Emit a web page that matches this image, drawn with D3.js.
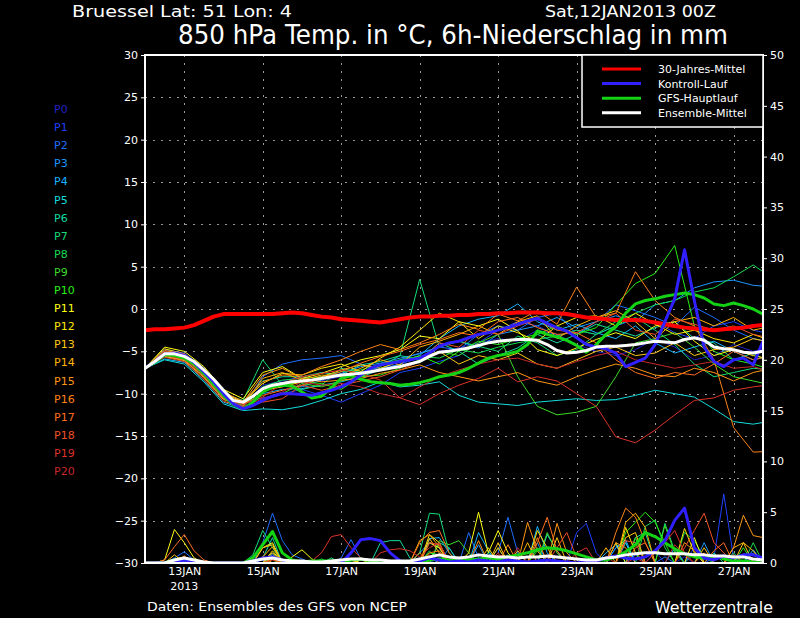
<!DOCTYPE html>
<html>
<head>
<meta charset="utf-8">
<script src="https://cdn.jsdelivr.net/npm/d3@7"></script>
<style>
  body { margin: 0; background: #000; }
  svg { display: block; }
  text { font-family: "DejaVu Sans", sans-serif; fill: #fff; }
</style>
</head>
<body>
<svg id="chart" width="800" height="618"></svg>
<script>
// ---- data ----
// time steps (hours since 12JAN2013 00Z)
var hoursMain = d3.range(0, 384, 6);      // 6-hourly, 0..378
var hoursMember = d3.range(0, 385, 12);   // 12-hourly, 0..384

var dateHours = [24, 72, 120, 168, 216, 264, 312, 360];
var dateLabels = ["13JAN", "15JAN", "17JAN", "19JAN", "21JAN", "23JAN", "25JAN", "27JAN"];

var memberNames = ["P0","P1","P2","P3","P4","P5","P6","P7","P8","P9","P10",
                   "P11","P12","P13","P14","P15","P16","P17","P18","P19","P20"];
var memberColors = ["#2020c8","#1e40ff","#1e6eff","#1e96ff","#14b4ff","#14dcdc","#14dca0",
                    "#14dc78","#14dc50","#3cdc28","#28f014","#ffff14","#ffe600","#ffc814",
                    "#ffb400","#ff9614","#ff8214","#ff6e1e","#f05028","#dc3228","#c82828"];

// 850 hPa temperature (degC)
var climTemp = [-2.5,-2.4,-2.4,-2.3,-2.2,-1.9,-1.4,-0.9, -0.6,-0.6,-0.6,-0.6,-0.6,-0.6,-0.5,-0.4,
                -0.5,-0.7,-0.9,-1.0,-1.2,-1.3,-1.4,-1.5, -1.6,-1.4,-1.2,-1.0,-0.9,-0.9,-0.8,-0.8,
                -0.7,-0.7,-0.6,-0.6,-0.5,-0.5,-0.4,-0.4, -0.4,-0.5,-0.5,-0.6,-0.8,-1.0,-1.1,-1.2,
                -1.3,-1.3,-1.3,-1.4,-1.6,-1.8,-2.0,-2.2, -2.3,-2.4,-2.5,-2.4,-2.3,-2.2,-2.0,-1.9];
var meanTemp = [-7.0,-6.2,-5.3,-5.3,-5.6,-6.2,-7.2,-8.3, -9.6,-10.8,-11.0,-10.3,-9.4,-9.0,-8.8,-8.6,
                -8.5,-8.4,-8.2,-8.0,-7.8,-7.7,-7.6,-7.4, -7.2,-7.0,-6.8,-6.5,-6.2,-5.6,-5.1,-5.0,
                -4.8,-4.6,-4.3,-4.0,-3.8,-3.7,-3.6,-3.6, -3.7,-4.2,-4.9,-5.2,-5.1,-4.9,-4.5,-4.4,
                -4.4,-4.3,-4.2,-4.0,-3.8,-3.9,-4.0,-3.6, -3.4,-3.7,-4.5,-4.7,-4.8,-5.1,-5.2,-5.0];
var gfsTemp = [-7.0,-6.3,-5.4,-5.5,-5.8,-6.5,-7.6,-8.9, -10.2,-11.3,-11.8,-11.0,-9.8,-9.2,-9.0,-9.1,
               -9.8,-10.5,-10.3,-9.3,-8.2,-7.9,-8.3,-8.6, -8.7,-8.8,-9.0,-8.9,-8.7,-8.4,-8.0,-7.8,
               -7.5,-7.0,-6.4,-5.8,-5.5,-5.3,-5.0,-4.2, -2.6,-3.0,-3.3,-3.7,-4.3,-5.1,-4.2,-3.0,
               -2.1,-0.5,0.6,1.0,1.2,1.5,1.7,1.9, 1.7,1.3,0.6,0.4,0.7,0.4,0.0,-0.6];
var controlTemp = [-7.0,-6.2,-5.3,-5.2,-5.5,-6.3,-7.4,-8.6, -10.0,-11.2,-11.8,-11.4,-10.8,-10.3,-10.0,-10.0,
                   -10.1,-10.2,-9.9,-9.6,-9.2,-8.6,-7.8,-7.0, -6.6,-6.4,-6.2,-6.0,-5.8,-5.2,-4.4,-4.0,
                   -3.8,-3.4,-3.0,-2.8,-2.5,-2.2,-1.8,-1.4, -1.1,-1.7,-2.2,-2.6,-3.4,-4.2,-4.5,-4.7,
                   -5.2,-6.8,-6.3,-5.8,-4.2,-1.5,1.2,7.0, 1.0,-4.5,-6.2,-6.8,-6.0,-5.8,-6.6,-3.8];

// ensemble members P0..P20, 12-hourly
var memberTemp = [
  [-7,-5.0,-5.4,-7.3,-10.2,-11.5,-9.0,-8.5,-8.0,-8.5,-8.0, -7.4,-7.0,-6.5,-5.8,-5.0,-4.6,-4.0,-3.5,-3.8,-2.5,-3.0, -4.2,-5.0,-5.5,-4.8,-3.5,-4.5,-6.0,-5.5,-4.2,-5.0,-4.5],
  [-7,-4.8,-5.2,-7.0,-9.8,-11.2,-10.5,-10.0,-9.5,-10.2,-11.0, -10.0,-9.0,-7.5,-7.0,-6.2,-5.5,-4.0,-2.5,-1.5,-2.0,-3.2, -2.5,-3.0,-2.0,-1.2,-1.5,-2.8,-3.5,-2.0,-1.5,-2.5,-3.0],
  [-7,-5.3,-5.5,-7.6,-10.4,-11.6,-8.0,-6.5,-6.0,-5.8,-5.5, -6.5,-7.2,-6.0,-5.2,-4.5,-4.8,-3.0,-2.0,-2.5,-1.0,-0.5, -3.0,-1.5,0.5,-0.2,-1.0,-2.0,0.2,-1.0,-2.5,-3.5,-4.0],
  [-7,-5.6,-6.0,-8.0,-10.6,-11.4,-9.5,-9.0,-9.2,-8.4,-7.6, -6.8,-6.4,-5.8,-5.3,-4.5,-3.8,-4.6,-3.0,-2.5,-2.0,-1.0, -2.2,-1.5,-0.8,-1.5,0.5,1.0,2.5,3.2,3.4,2.8,2.6],
  [-7,-5.9,-6.3,-8.4,-11.0,-11.8,-10.0,-9.5,-9.4,-9.0,-8.6, -8.0,-7.2,-6.5,-5.5,-3.5,-2.0,-1.2,-0.8,0.6,-1.5,-2.5, -1.8,-2.8,-3.5,-2.0,-4.0,-5.2,-4.5,-3.8,-5.0,-6.0,-5.5],
  [-7,-6.0,-6.5,-8.6,-11.2,-12.0,-11.8,-11.9,-11.5,-10.8,-10.0, -9.5,-8.6,-9.2,-9.0,-8.6,-10.2,-11.0,-11.2,-11.4,-11.0,-10.8, -10.6,-10.8,-10.7,-10.2,-9.6,-10.0,-10.4,-11.8,-13.3,-13.6,-13.2],
  [-7,-5.2,-5.8,-7.8,-10.3,-11.0,-8.5,-8.0,-8.0,-7.5,-7.8, -6.6,-6.2,-5.5,-6.0,-4.0,-5.0,-6.5,-5.5,-4.6,-3.0,-4.0, -3.0,-1.8,-2.5,-3.2,-2.2,-1.5,-3.5,-4.0,-6.0,-5.2,-6.5],
  [-7,-5.5,-5.6,-7.5,-10.0,-10.8,-6.0,-9.0,-9.5,-9.0,-7.0, -7.5,-6.8,-5.5,3.5,-4.5,-3.8,-4.4,-5.0,-3.2,-4.0,-5.5, -4.8,-3.0,-2.0,-1.0,-2.5,-4.2,-6.5,-8.0,-7.5,-7.0,-7.2],
  [-7,-5.1,-5.5,-7.4,-10.1,-11.5,-9.2,-8.4,-8.2,-8.0,-7.4, -7.2,-6.5,-6.0,-5.6,-5.8,-4.8,-5.2,-4.5,-4.0,-3.6,-3.2, -2.5,-3.0,-1.5,-0.5,0.5,1.0,2.0,2.5,3.8,5.2,3.6],
  [-7,-5.4,-5.9,-7.9,-10.5,-11.8,-10.8,-10.0,-8.8,-9.2,-8.5, -8.0,-7.8,-7.0,-6.0,-5.0,-5.5,-4.0,-3.0,-8.0,-11.5,-12.5, -12.2,-11.5,-8.0,-4.0,-3.5,-2.8,-4.5,-6.5,-8.0,-8.5,-9.0],
  [-7,-5.0,-5.4,-7.2,-10.0,-11.4,-9.8,-9.0,-8.6,-8.8,-9.5, -8.0,-7.0,-6.2,-5.5,-6.5,-5.0,-3.8,-4.2,-3.5,-3.0,-2.0, -3.0,-2.2,0.5,3.0,4.2,7.5,-2.0,-5.0,-6.0,-6.5,-7.2],
  [-7,-4.5,-5.0,-6.8,-9.5,-10.6,-7.5,-6.8,-8.2,-7.6,-6.8, -6.0,-5.5,-4.8,-3.2,-3.5,-1.5,-2.0,-1.2,-2.6,-4.8,-5.5, -4.6,-3.6,-2.8,-3.5,-2.0,-1.5,-3.8,-5.5,-4.8,-5.5,-6.0],
  [-7,-4.7,-5.3,-7.2,-9.9,-11.0,-8.8,-7.6,-7.8,-7.0,-6.5, -7.4,-5.8,-4.5,-2.5,-0.5,-1.5,-3.5,-2.0,-2.8,-3.8,-2.0, -1.0,-0.8,-2.0,-0.5,-1.8,-3.0,-2.5,-3.5,-4.0,-3.0,-3.8],
  [-7,-5.2,-5.7,-7.7,-10.3,-11.2,-9.6,-9.2,-8.6,-8.0,-7.2, -6.6,-7.0,-6.2,-5.8,-5.0,-6.5,-5.5,-6.0,-5.2,-6.5,-7.0, -6.0,-5.0,-4.5,-5.5,-5.2,-4.0,-5.5,-4.8,-4.5,-3.5,-4.0],
  [-7,-5.6,-6.1,-8.1,-10.7,-11.5,-8.2,-7.5,-8.4,-7.8,-8.0, -7.0,-6.0,-6.6,-4.5,-3.8,-3.0,-2.0,-3.0,-1.5,-0.8,-3.5, -2.0,-1.0,-0.2,-1.5,-3.5,-1.5,-1.0,-2.0,-1.0,-2.5,-2.0],
  [-7,-5.3,-5.8,-7.6,-10.2,-11.0,-7.8,-7.0,-8.2,-8.6,-8.4, -8.2,-7.6,-7.2,-6.6,-7.5,-8.0,-8.5,-8.0,-7.5,-8.5,-9.0, -8.0,-7.2,-6.5,-7.0,-7.8,-8.0,-7.0,-7.5,-8.5,-7.5,-7.0],
  [-7,-4.9,-5.3,-7.1,-9.8,-10.9,-8.6,-7.8,-7.8,-6.8,-6.0, -5.0,-4.2,-4.8,-4.0,-3.0,-1.8,-2.4,-0.6,-1.4,-0.2,-1.8, 2.6,-1.0,-0.5,4.4,1.0,-1.0,-2.0,-6.0,-14.0,-16.9,-16.8],
  [-7,-5.5,-6.0,-8.0,-10.6,-11.2,-10.2,-9.6,-9.0,-8.2,-7.4, -6.4,-5.6,-5.0,-4.2,-3.6,-2.8,-3.2,-1.5,-1.0,-2.2,-3.0, -2.8,-4.0,-6.0,-7.5,-8.2,-7.5,-7.8,-6.5,-5.0,-6.0,-5.5],
  [-7,-5.7,-6.2,-8.3,-10.9,-11.6,-11.0,-10.6,-9.0,-9.6,-9.0, -8.5,-8.0,-7.2,-6.2,-4.0,-4.5,-2.5,-3.0,-2.0,-1.2,-2.5, -2.8,-1.5,-0.5,-2.5,-3.0,-1.2,-1.8,-2.5,-2.0,-3.0,-3.5],
  [-7,-5.0,-5.5,-7.5,-10.1,-11.3,-10.4,-8.8,-8.0,-7.6,-7.2, -7.6,-8.4,-10.5,-11.3,-10.0,-9.0,-8.2,-7.0,-8.6,-8.0,-8.5, -10.0,-11.5,-15.1,-15.8,-14.3,-12.5,-10.8,-10.5,-9.6,-9.2,-8.9],
  [-7,-5.4,-5.9,-7.8,-10.4,-11.5,-10.6,-9.8,-8.6,-9.0,-8.8, -9.2,-10.0,-10.5,-9.2,-8.0,-7.2,-6.5,-6.0,-5.8,-6.5,-7.0, -6.2,-5.5,-5.0,-6.0,-6.5,-7.0,-6.6,-6.2,-7.0,-6.8,-7.5]
];

// 6h precipitation (mm)
var gfsPrecip = [0,0,0,0.3,0.4,0.2,0,0, 0,0,0,0.5,1.8,3.1,1.0,0.3,
                 0.1,0.2,0.2,0.2,0,0.3,0.4,0.2, 0,0,0,0,0.1,0.3,0.4,0.3,
                 0.2,0.3,0.4,0.5,0.4,0.6,0.8,1.0, 1.3,1.5,1.4,1.2,0.9,0.6,0.3,0.3,
                 0.6,1.1,1.8,3.0,2.6,2.0,1.4,0.9, 0.6,0.5,0.7,0.4,0.2,0.2,0.1,0];
var controlPrecip = [0,0,0,0,0.3,0.1,0,0, 0,0,0,0.2,0.5,0.6,0.3,0,
                     0,0,0,0,0,1.0,2.3,2.4, 2.2,1.0,0.2,0,0.2,0.5,0.3,0.1,
                     0.2,0.1,0.3,0.2,0.1,0.3,0.2,0.1, 0.2,0.3,0.2,0.1,0,0.1,0.2,0.5,
                     0.7,0.5,0.4,0.6,1.2,2.2,4.2,5.4, 1.5,0.5,0.3,0.7,0.5,0.8,0.8,0.5];
var meanPrecip = [0,0,0,0.3,0.5,0.3,0.1,0, 0,0,0,0.2,0.4,0.5,0.3,0.2,
                  0.2,0.1,0.1,0.2,0.3,0.4,0.4,0.3, 0.3,0.2,0.2,0.2,0.4,0.6,0.8,0.6,
                  0.5,0.6,0.8,0.7,0.6,0.6,0.5,0.6, 0.6,0.7,0.6,0.5,0.4,0.3,0.3,0.5,
                  0.6,0.8,0.9,1.0,1.0,0.9,0.9,0.9, 0.8,0.8,0.7,0.7,0.6,0.6,0.4,0.3];
// members: [6h step index, mm]; the other steps are dry
var memberPrecip = [
  [[4,0.4],[13,0.5],[22,0.4],[30,0.6],[37,0.8],[45,0.5],[52,1.2],[55,0.6],[61,0.8]],
  [[4,0.6],[12,0.3],[29,0.5],[38,1.0],[44,3.0],[45,3.9],[46,1.0],[50,0.8],[56,1.5],[58,0.5],[59,6.8],[60,0.5]],
  [[3,0.5],[4,1.1],[5,0.3],[12,2.0],[13,4.9],[14,2.2],[15,0.8],[16,0.4],[20,0.5],[21,2.3],[22,0.4],[31,1.5],[33,3.0],[34,0.5],[36,1.0],[37,4.5],[38,1.0],[48,1.5],[49,2.0],[53,0.6]],
  [[4,0.3],[13,0.8],[28,1.0],[29,2.0],[30,1.5],[34,1.8],[40,2.0],[48,1.5],[49,2.3],[57,2.0],[62,1.0]],
  [[4,0.2],[13,1.0],[29,2.4],[30,2.5],[31,1.0],[34,3.0],[35,1.2],[40,3.6],[41,1.0],[47,1.0],[48,1.8],[54,1.5],[62,1.3]],
  [[3,0.3],[12,0.5],[21,0.3],[29,0.6],[36,1.5],[41,2.8],[42,1.2],[49,2.0],[56,1.0]],
  [[12,0.5],[13,2.5],[24,2.0],[25,2.2],[26,2.2],[27,0.5],[30,2.0],[31,1.5],[35,1.0],[50,2.5],[51,3.0],[58,1.0]],
  [[11,0.8],[12,3.2],[13,1.5],[19,0.5],[28,1.0],[29,4.9],[30,4.8],[31,1.0],[40,1.5],[53,3.9],[54,1.2],[60,1.0]],
  [[4,0.3],[13,1.0],[18,0.4],[29,1.2],[37,0.8],[51,3.6],[52,4.2],[53,1.5],[55,3.0],[56,2.2],[57,0.5],[62,2.0]],
  [[13,0.6],[20,0.3],[30,2.2],[31,1.8],[32,2.2],[33,1.0],[41,3.0],[42,1.0],[50,2.5],[53,3.7],[54,1.0]],
  [[4,0.2],[12,0.5],[14,0.4],[29,1.0],[30,0.8],[40,1.2],[49,3.0],[50,4.0],[51,5.0],[52,4.0],[53,2.0],[61,1.5]],
  [[2,0.3],[3,3.3],[4,2.0],[5,0.5],[12,1.5],[13,2.0],[15,0.6],[16,1.3],[17,0.4],[22,0.3],[29,2.0],[30,1.5],[33,1.0],[34,5.0],[35,1.0],[36,3.2],[37,1.0],[48,2.0],[56,2.5],[63,0.5]],
  [[4,0.5],[13,1.2],[21,0.4],[29,2.8],[30,2.0],[35,1.5],[40,3.2],[41,1.5],[49,3.5],[50,1.0],[55,3.4],[56,1.0]],
  [[3,0.8],[12,1.5],[13,1.8],[29,2.4],[30,1.0],[36,2.0],[38,1.2],[42,2.5],[49,2.5],[50,3.0],[57,1.5],[61,2.0]],
  [[3,0.4],[4,0.6],[12,0.6],[13,1.6],[28,2.2],[29,2.8],[30,1.6],[36,1.5],[39,2.0],[47,1.5],[49,4.0],[50,4.9],[51,3.5],[60,1.5],[61,2.0],[62,1.2]],
  [[13,1.0],[22,0.5],[28,1.0],[34,2.2],[39,4.0],[40,1.2],[42,3.9],[43,1.0],[48,2.0],[49,1.5],[55,2.0],[56,1.2],[60,1.5],[61,4.7],[62,2.7],[63,2.5]],
  [[4,0.7],[12,0.6],[29,1.0],[30,1.2],[37,1.8],[40,2.5],[48,3.0],[49,5.4],[50,4.5],[51,2.0],[57,1.0],[60,0.8]],
  [[2,0.3],[3,1.6],[4,2.8],[5,1.2],[6,0.3],[13,0.4],[28,2.0],[29,3.0],[30,3.2],[31,1.0],[40,2.0],[41,4.5],[42,1.2],[50,1.5],[51,2.0],[58,1.2],[59,2.0]],
  [[4,0.5],[13,0.3],[29,2.0],[30,1.8],[36,0.8],[42,1.5],[43,3.0],[44,0.5],[49,2.2],[50,2.0],[55,1.5],[56,3.2],[57,4.9],[58,2.0],[59,1.0]],
  [[17,0.2],[18,1.0],[19,2.6],[20,2.8],[21,1.5],[22,0.5],[24,1.0],[25,1.3],[26,1.4],[27,1.2],[28,0.6],[29,1.5],[30,2.0],[44,1.0],[45,1.5],[52,1.0],[53,2.0],[54,3.2],[55,1.0]],
  [[4,0.3],[20,0.4],[29,0.8],[36,1.0],[38,1.5],[47,0.6],[50,0.5],[54,1.8],[55,0.8]]
];

var legendNames = ["30-Jahres-Mittel", "Kontroll-Lauf", "GFS-Hauptlauf", "Ensemble-Mittel"];
var legendColors = ["#ff0000", "#3020ff", "#14d214", "#ffffff"];

var tempTicks = d3.range(-30, 31, 5);
var precipTicks = d3.range(0, 51, 5);

// ---- drawing ----
var svg = d3.select("#chart");
svg.append("rect").attr("width", 800).attr("height", 618).attr("fill", "#000");

var pL = 145, pR = 763, pT = 55, pB = 563;

var x = d3.scaleLinear().domain([0, 378]).range([pL, pR]);
var yT = d3.scaleLinear().domain([-30, 30]).range([pB, pT]);
var yP = d3.scaleLinear().domain([0, 50]).range([pB, pT]);

svg.append("clipPath").attr("id", "plot")
  .append("rect").attr("x", pL).attr("y", pT).attr("width", pR - pL).attr("height", pB - pT);

// grid
var grid = svg.append("g").attr("stroke", "#9a9a9a").attr("stroke-width", 1)
  .attr("stroke-dasharray", "2,6");
grid.selectAll(".h").data(tempTicks.filter(function(d) { return d > -30 && d < 30; }))
  .enter().append("line")
  .attr("x1", pL).attr("x2", pR)
  .attr("y1", function(d) { return Math.round(yT(d)) + 0.5; })
  .attr("y2", function(d) { return Math.round(yT(d)) + 0.5; });
grid.selectAll(".v").data(dateHours).enter().append("line")
  .attr("y1", pT).attr("y2", pB)
  .attr("x1", function(d) { return Math.round(x(d)) + 0.5; })
  .attr("x2", function(d) { return Math.round(x(d)) + 0.5; });

var plot = svg.append("g").attr("clip-path", "url(#plot)").attr("fill", "none")
  .attr("stroke-linejoin", "round");

var lineMember = d3.line().x(function(d, i) { return x(hoursMember[i]); }).y(function(d) { return yT(d); });
var lineMain = d3.line().x(function(d, i) { return x(hoursMain[i]); }).y(function(d) { return yT(d); });
var linePrecip = d3.line().x(function(d, i) { return x(hoursMain[i]); }).y(function(d) { return yP(d); });

// member temperatures
memberTemp.forEach(function(s, k) {
  plot.append("path").attr("d", lineMember(s)).attr("stroke", memberColors[k]).attr("stroke-width", 1);
});

// member precipitation
memberPrecip.forEach(function(ev, k) {
  var full = hoursMain.map(function() { return 0; });
  ev.forEach(function(p) { full[p[0]] = p[1]; });
  plot.append("path").attr("d", linePrecip(full)).attr("stroke", memberColors[k]).attr("stroke-width", 1);
});

// main precipitation
plot.append("path").attr("d", linePrecip(gfsPrecip)).attr("stroke", legendColors[2]).attr("stroke-width", 3);
plot.append("path").attr("d", linePrecip(controlPrecip)).attr("stroke", legendColors[1]).attr("stroke-width", 3);
plot.append("path").attr("d", linePrecip(meanPrecip)).attr("stroke", legendColors[3]).attr("stroke-width", 3);

// main temperatures
plot.append("path").attr("d", lineMain(climTemp)).attr("stroke", legendColors[0]).attr("stroke-width", 4);
plot.append("path").attr("d", lineMain(gfsTemp)).attr("stroke", legendColors[2]).attr("stroke-width", 3);
plot.append("path").attr("d", lineMain(controlTemp)).attr("stroke", legendColors[1]).attr("stroke-width", 3);
plot.append("path").attr("d", lineMain(meanTemp)).attr("stroke", legendColors[3]).attr("stroke-width", 3);

// frame
svg.append("rect").attr("x", pL).attr("y", pT).attr("width", pR - pL).attr("height", pB - pT)
  .attr("fill", "none").attr("stroke", "#fff").attr("stroke-width", 2);

// axes
var axL = svg.append("g").attr("transform", "translate(" + pL + ",0)")
  .call(d3.axisLeft(yT).tickValues(tempTicks).tickSize(4).tickPadding(3));
var axR = svg.append("g").attr("transform", "translate(" + pR + ",0)")
  .call(d3.axisRight(yP).tickValues(precipTicks).tickSize(4).tickPadding(3));
var axB = svg.append("g").attr("transform", "translate(0," + pB + ")")
  .call(d3.axisBottom(x).tickValues(dateHours).tickSize(0).tickPadding(4)
    .tickFormat(function(d, i) { return dateLabels[i]; }));
[axL, axR, axB].forEach(function(a) {
  a.select(".domain").remove();
  a.selectAll("line").attr("stroke", "#fff");
  a.selectAll("text").attr("fill", "#fff").attr("font-size", 11)
    .attr("font-family", "DejaVu Sans, sans-serif");
});
svg.append("text").attr("x", x(24)).attr("y", 590).attr("text-anchor", "middle")
  .attr("font-size", 11).text("2013");

// member labels
svg.selectAll(".plab").data(memberNames).enter().append("text")
  .attr("x", 54).attr("y", function(d, i) { return 113 + i * 18.1; })
  .attr("font-size", 11).style("fill", function(d, i) { return memberColors[i]; })
  .text(function(d) { return d; });

// legend
svg.append("rect").attr("x", 582).attr("y", 55).attr("width", 181).attr("height", 72)
  .attr("fill", "#000").attr("stroke", "#fff").attr("stroke-width", 1.5);
legendNames.forEach(function(n, i) {
  var ly = 69 + i * 14.6;
  svg.append("line").attr("x1", 602).attr("x2", 641).attr("y1", ly).attr("y2", ly)
    .attr("stroke", legendColors[i]).attr("stroke-width", 3);
  svg.append("text").attr("x", 658).attr("y", ly + 4).attr("font-size", 11).text(n);
});

// titles
svg.append("text").attr("x", 72).attr("y", 17).attr("font-size", 15.5)
  .attr("textLength", 220).attr("lengthAdjust", "spacingAndGlyphs").text("Bruessel  Lat: 51 Lon: 4");
svg.append("text").attr("x", 545).attr("y", 17).attr("font-size", 15.5)
  .attr("textLength", 171).attr("lengthAdjust", "spacingAndGlyphs").text("Sat,12JAN2013 00Z");
svg.append("text").attr("x", 178).attr("y", 44).attr("font-size", 26)
  .attr("textLength", 550).attr("lengthAdjust", "spacingAndGlyphs")
  .text("850 hPa Temp. in °C, 6h-Niederschlag in mm");
svg.append("text").attr("x", 147).attr("y", 611).attr("font-size", 12)
  .attr("textLength", 260).attr("lengthAdjust", "spacingAndGlyphs")
  .text("Daten: Ensembles des GFS von NCEP");
svg.append("text").attr("x", 655).attr("y", 613).attr("font-size", 15)
  .attr("textLength", 118).attr("lengthAdjust", "spacingAndGlyphs").text("Wetterzentrale");
</script>
</body>
</html>
